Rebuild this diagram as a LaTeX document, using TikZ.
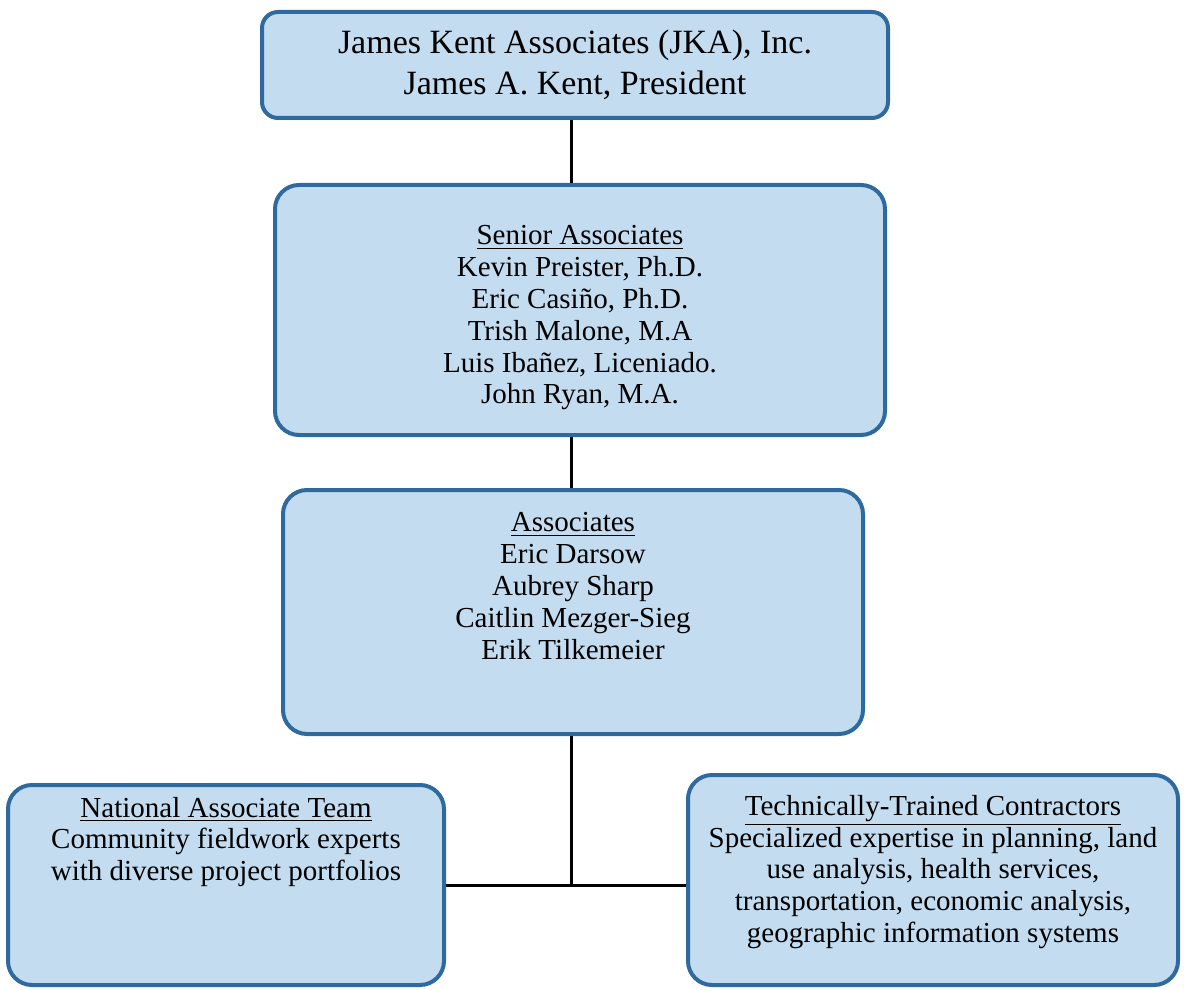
\documentclass[tikz,border=0pt]{standalone}
\usepackage{fontspec}
\setmainfont{Liberation Serif}
\usetikzlibrary{positioning}

\definecolor{boxfill}{HTML}{C3DCF0}
\definecolor{boxline}{HTML}{2F6A9E}

\tikzset{
  orgbox/.style={draw=boxline, line width=2pt, fill=boxfill, rounded corners=12pt, inner sep=0pt},
  boxtext/.style={align=center, inner sep=0pt, font=\fontsize{14.5}{15.9}\selectfont},
  conn/.style={line width=1.5pt, black}
}

\begin{document}
\begin{tikzpicture}[x=0.5pt, y=-0.5pt]
\useasboundingbox (0,0) rectangle (1184,990);
\node[orgbox, rounded corners=8pt, minimum width=313pt, minimum height=53pt] (jka) at (575,65) {};
\node[boxtext, font=\fontsize{17}{20.5}\selectfont] (jkatxt) at (jka.center) {James Kent Associates (JKA), Inc.\\James A. Kent, President};
\node[orgbox, minimum width=305pt, minimum height=125pt] (senior) at (580,310) {};
\node[boxtext] (seniortxt) at (580,318) {\underline{Senior Associates}\\Kevin Preister, Ph.D.\\Eric Casiño, Ph.D.\\Trish Malone, M.A\\Luis Ibañez, Liceniado.\\John Ryan, M.A.};
\node[orgbox, minimum width=290pt, minimum height=122pt] (assoc) at (573,612) {};
\node[boxtext] (assoctxt) at (573,586) {\underline{Associates}\\Eric Darsow\\Aubrey Sharp\\Caitlin Mezger-Sieg\\Erik Tilkemeier};
\node[orgbox, minimum width=218pt, minimum height=100pt] (nat) at (226,885) {};
\node[boxtext] (nattxt) at (226,842) {\underline{National Associate Team}\\Community fieldwork experts\\with diverse project portfolios};
\node[orgbox, minimum width=245pt, minimum height=105pt] (tech) at (933,880) {};
\node[boxtext] (techtxt) at (933,872) {\underline{Technically-Trained Contractors}\\Specialized expertise in planning, land\\use analysis, health services,\\transportation, economic analysis,\\geographic information systems};
% connectors
\coordinate (spine) at (571,0);
\coordinate (split) at (spine |- nat.east);
\draw[conn] (spine |- jka.south) -- (spine |- senior.north);
\draw[conn] (spine |- senior.south) -- (spine |- assoc.north);
\draw[conn] (spine |- assoc.south) -- (split);
\draw[conn] (nat.east) -- (nat.east -| tech.west);
\end{tikzpicture}
\end{document}
